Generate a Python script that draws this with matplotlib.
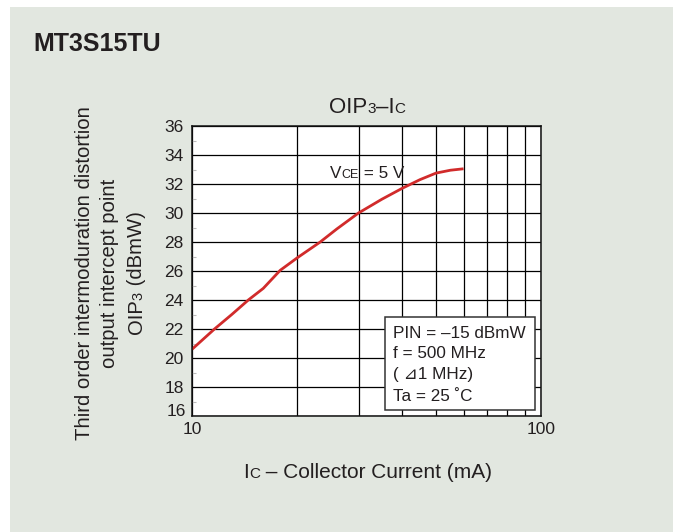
import matplotlib
matplotlib.use("Agg")
import matplotlib.pyplot as plt
from matplotlib.patches import Rectangle

# --- data (VCE = 5 V) ---
ic_ma = [10, 11.6, 13, 14.5, 16, 17.9, 20, 23.3, 26, 30, 35, 40, 45, 50, 55, 60]
oip3_dbmw = [20.6, 22.0, 23.0, 24.0, 24.8, 26.05, 26.9, 28.0, 28.9, 30.0, 30.95,
             31.7, 32.3, 32.75, 32.95, 33.05]

x_ticks = [10, 100]
x_grid = [20, 30, 40, 50, 60, 70, 80, 90]
y_ticks = list(range(16, 37, 2))
y_minor = list(range(17, 36, 2))

cond_lines = ["PIN = \u201315 dBmW", "f = 500 MHz", "( \u22bf1 MHz)", "Ta = 25 \u02daC"]

FONT = ["Liberation Sans", "DejaVu Sans"]
TXT = "#231f20"
BG = "#e2e7e0"
W, H = 673, 532

plt.rcParams["font.family"] = FONT

fig = plt.figure(figsize=(W / 100, H / 100), dpi=100)
fig.patch.set_facecolor("white")
fig.patches.append(Rectangle((10 / W, 0), 1, (H - 7) / H, transform=fig.transFigure,
                             facecolor=BG, edgecolor="none", zorder=-10))


def rich_text(x, y, pieces, rotation=0, center=False, **kw):
    """pieces of (text, size) laid out along one baseline; x, y in image pixels"""
    r = fig.canvas.get_renderer()
    arts, lens = [], []
    for s, size in pieces:
        t = fig.text(0, 0, s, fontsize=size, rotation=rotation, rotation_mode="anchor",
                     ha="left", va="baseline", transform=None, color=TXT, **kw)
        bb = t.get_window_extent(r)
        lens.append(bb.height if rotation == 90 else bb.width)
        arts.append(t)
    pos = -sum(lens) / 2 if center else 0
    yd = H - y
    for t, L in zip(arts, lens):
        t.set_position((x, yd + pos) if rotation == 90 else (x + pos, yd))
        pos += L


ax = fig.add_axes([192 / W, (H - 416) / H, 349 / W, 290 / H])
ax.set_facecolor("white")
ax.set_xscale("log")
ax.set_xlim(10, 100)
ax.set_ylim(16, 36)
ax.set_axisbelow(True)

ax.set_xticks(x_ticks)
ax.set_xticklabels([str(v) for v in x_ticks])
ax.set_xticks(x_grid, minor=True)
ax.set_xticklabels([], minor=True)
ax.set_yticks(y_ticks)
ax.set_yticklabels([str(v) if v != 16 else "" for v in y_ticks])
ax.set_yticks(y_minor, minor=True)

ax.xaxis.grid(True, which="both", color="black", lw=0.9)
ax.yaxis.grid(True, which="major", color="black", lw=0.9)
ax.tick_params(axis="x", which="both", length=0, pad=4, labelsize=12.5, labelcolor=TXT)
ax.tick_params(axis="y", which="major", length=0, pad=6, labelsize=12.5, labelcolor=TXT)
ax.tick_params(axis="y", which="minor", length=3, direction="in", color="#bbbbbb", width=0.8)
for sp in ax.spines.values():
    sp.set_color("#111111")
    sp.set_linewidth(1.1)

# the 16 label sits a little higher so it clears the 10
ax.annotate("16", xy=(0, 16), xycoords=("axes fraction", "data"), xytext=(-4.3, 3),
            textcoords="offset points", ha="right", va="center", fontsize=12.5, color=TXT)

ax.plot(ic_ma, oip3_dbmw, color="#d12b2b", lw=2.0, solid_joinstyle="round",
        solid_capstyle="butt", zorder=2.5)

# condition box
ax.add_patch(Rectangle((0.553, 0.021), 0.43, 0.32, transform=ax.transAxes,
                       facecolor="white", edgecolor="#333333", lw=1.1, zorder=3))
for line, yb in zip(cond_lines, [0.269, 0.199, 0.127, 0.052]):
    ax.text(0.575, yb, line, transform=ax.transAxes, fontsize=12.3, color=TXT,
            va="baseline", ha="left", zorder=4)

# texts
fig.text(33 / W, (H - 51) / H, "MT3S15TU", fontsize=18, fontweight="bold", color=TXT)
rich_text(367, 113, [("OIP", 16), ("3", 11), ("\u2013I", 16), ("C", 11)], center=True)
rich_text(330, 178, [("V", 12.3), ("CE", 9), (" = 5 V", 12.3)])
rich_text(243, 478, [("I", 15), ("C", 11), (" \u2013 Collector Current (mA)", 15)])
rich_text(90, 273, [("Third order intermoduration distortion", 14.6)], rotation=90, center=True)
rich_text(115, 273, [("output intercept point", 14.6)], rotation=90, center=True)
rich_text(142, 273, [("OIP", 14.6), ("3", 10.5), (" (dBmW)", 14.6)], rotation=90, center=True)

fig.savefig("out.png", dpi=100)
